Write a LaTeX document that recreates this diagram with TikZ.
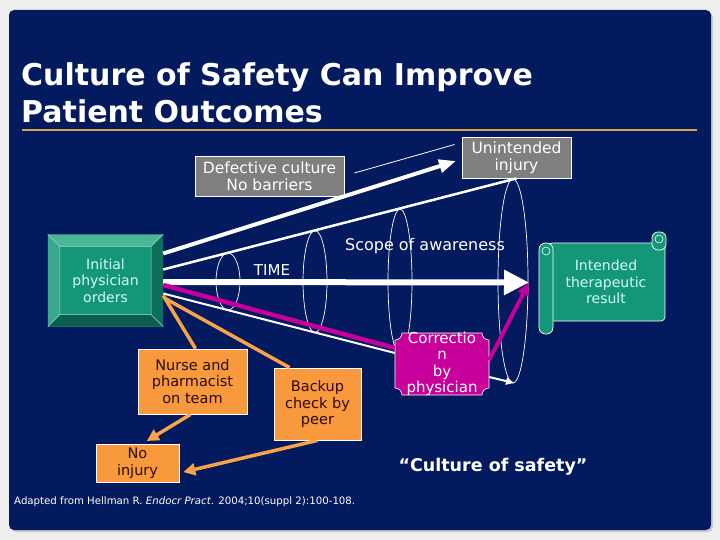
\documentclass[tikz,border=0pt]{standalone}
\usepackage{fontspec}
\setmainfont{DejaVu Sans}
\usetikzlibrary{arrows.meta, positioning, calc}
\definecolor{navy}{HTML}{041A5E}
\definecolor{pagegray}{HTML}{EEEEEE}
\definecolor{shadowgray}{HTML}{C6C9D0}
\definecolor{rulegold}{HTML}{D9A443}
\definecolor{boxgray}{HTML}{7F7F7F}
\definecolor{ordgreen}{HTML}{149679}
\definecolor{ordlight}{HTML}{4DB598}
\definecolor{ordside}{HTML}{3AA88B}
\definecolor{orddark}{HTML}{0A5E4C}
\definecolor{ordright}{HTML}{0C6F5A}
\definecolor{paletext}{HTML}{D2FBF5}
\definecolor{teamorange}{HTML}{F7993C}
\definecolor{linkorange}{HTML}{F8A24A}
\definecolor{darktext}{HTML}{2A0B0B}
\definecolor{fixmagenta}{HTML}{C8009B}

\begin{document}
\begin{tikzpicture}[x=1pt, y=-1pt,
  graybox/.style={draw=white, line width=0.8pt, fill=boxgray, text=white,
    font=\fontsize{15.5}{17.5}\selectfont, align=center, inner sep=0pt},
  teambox/.style={draw=white, line width=0.8pt, fill=teamorange, text=darktext,
    font=\fontsize{14.5}{16.8}\selectfont, align=center, inner sep=0pt},
  scopering/.style={white, line width=0.7pt},
  teamlink/.style={linkorange, line width=3.5pt},
  whitetext/.style={text=white, inner sep=0pt}]

% Background
\useasboundingbox (0,0) rectangle (720,540);
\fill[pagegray] (0,0) rectangle (720,540);
\fill[shadowgray, rounded corners=5pt] (11,12) rectangle (713,532);
\fill[navy, rounded corners=5pt] (9,10) rectangle (711,530);

% Title
\node[anchor=north west, align=left, inner sep=0pt, text=white,
  font=\fontsize{30}{37}\selectfont\bfseries] (title) at (21,63)
  {Culture of Safety Can Improve\\Patient Outcomes};
\draw[rulegold, line width=2.5pt] (22,130) -- (697,130);

% Scope of awareness rings
\draw[scopering] (228,281.5) ellipse [x radius=12pt, y radius=28.5pt];
\draw[scopering] (315,281.5) ellipse [x radius=12pt, y radius=51pt];
\draw[scopering] (400,281.5) ellipse [x radius=12pt, y radius=72.5pt];
\draw[scopering] (513,281) ellipse [x radius=15pt, y radius=102pt];

\node[whitetext, font=\fontsize{16}{18}\selectfont] (scope) at (425,246) {Scope of awareness};
\node[whitetext, font=\fontsize{15}{18}\selectfont] (time) at (272,270) {TIME};

% Gray boxes
\node[graybox, minimum width=149pt, minimum height=40pt] (defect) at (269.5,176)
  {Defective culture\\No barriers};
\node[graybox, minimum width=109pt, minimum height=41pt] (unint) at (516.5,157.5)
  {Unintended\\injury};

% Initial physician orders (bevelled box)
\node[fill=ordgreen, minimum width=115pt, minimum height=92pt, inner sep=0pt,
  text=paletext, font=\fontsize{14}{16.5}\selectfont, align=center] (orders)
  at (105.5,280.5) {Initial\\physician\\orders};
\fill[ordlight] (orders.north west) -- (orders.north east) -- ++(-12,12)
  -- ($(orders.north west)+(12,12)$) -- cycle;
\fill[ordside] (orders.north west) -- ++(12,12)
  -- ($(orders.south west)+(12,-12)$) -- (orders.south west) -- cycle;
\fill[orddark] (orders.south west) -- ++(12,-12)
  -- ($(orders.south east)+(-12,-12)$) -- (orders.south east) -- cycle;
\fill[ordright] (orders.north east) -- ++(-12,12)
  -- ($(orders.south east)+(-12,-12)$) -- (orders.south east) -- cycle;
\draw[paletext!70!ordgreen, line width=0.5pt]
  ($(orders.north west)+(12,12)$) rectangle ($(orders.south east)+(-12,-12)$)
  (orders.north west) -- ++(12,12) (orders.north east) -- ++(-12,12)
  (orders.south west) -- ++(12,-12) (orders.south east) -- ++(-12,-12);

% Intended therapeutic result (scroll)
\filldraw[fill=ordgreen, draw=white, line width=0.7pt, rounded corners=4pt]
  (548,243) rectangle (665,321);
\filldraw[fill=ordgreen, draw=white, line width=0.7pt, rounded corners=6pt]
  (652,232) rectangle (666,250);
\filldraw[fill=ordgreen, draw=white, line width=0.7pt, rounded corners=6.5pt]
  (539,243) rectangle (553,334);
\draw[white, line width=0.6pt] (546,251) circle [radius=4pt];
\draw[white, line width=0.6pt] (659,239) circle [radius=4pt];
\node[text=paletext, font=\fontsize{14}{16.5}\selectfont, align=center] (result)
  at (606,282) {Intended\\therapeutic\\result};

% Team boxes
\node[teambox, minimum width=109pt, minimum height=65pt] (nurse) at (192.5,381.5)
  {Nurse and\\pharmacist\\on team};
\node[teambox, minimum width=87pt, minimum height=72pt] (backup) at (317.5,404)
  {Backup\\check by\\peer};
\node[teambox, minimum width=83pt, minimum height=38pt] (noinj) at (137.5,463)
  {No\\injury};

% Correction by physician (plaque)
\filldraw[fill=fixmagenta, draw=white, line width=0.6pt]
  (402,333) -- (482,333) arc [start angle=180, end angle=270, radius=7pt]
  -- (489,388) arc [start angle=90, end angle=180, radius=7pt]
  -- (402,395) arc [start angle=0, end angle=90, radius=7pt]
  -- (395,340) arc [start angle=270, end angle=360, radius=7pt] -- cycle;
\node[whitetext, minimum width=94pt, minimum height=62pt, align=center,
  font=\fontsize{15}{16.5}\selectfont] (corr) at (442,364)
  {Correctio\\n\\by\\physician};

% Arrow ends
\coordinate (harm) at (456,161);
\coordinate (goal) at (529,282.5);
\coordinate (lowend) at (514,383);

% Paths from the orders
\draw[white, line width=4pt, -{Triangle[length=17pt, width=13pt]}]
  ([yshift=27pt]orders.east) -- (harm);
\draw[white, line width=2.5pt] ([yshift=11pt]orders.east) -- (unint.south);
\draw[white, line width=0.8pt] ([xshift=10pt, yshift=3pt]defect.east)
  -- ([xshift=-7pt, yshift=13pt]unint.west);
\draw[white, line width=6pt, -{Triangle[length=25pt, width=24pt]}]
  ([yshift=-1.5pt]orders.east) -- (goal);
\draw[fixmagenta, line width=4.5pt] ([yshift=-4.5pt]orders.east) -- ([yshift=16pt]corr.west);
\draw[fixmagenta, line width=4pt, -{Triangle[length=13pt, width=11pt]}]
  ([yshift=4pt]corr.east) -- (goal);
\draw[white, line width=2pt] ([yshift=-13pt]orders.east) -- ([yshift=11pt]corr.west);
\draw[white, line width=2pt, -{Triangle[length=8pt, width=7pt]}]
  ([yshift=-13pt]corr.east) -- (lowend);

% Team links
\draw[teamlink] ([yshift=-15pt]orders.east) -- ([xshift=3pt]nurse.north);
\draw[teamlink] ([xshift=2pt, yshift=-18pt]orders.east) -- ([xshift=16pt]backup.north west);
\draw[teamlink, -{Triangle[length=12pt, width=12pt]}, shorten >=5pt]
  ([xshift=-2pt]nurse.south) -- ([xshift=5pt]noinj.north);
\draw[teamlink, -{Triangle[length=12pt, width=12pt]}, shorten >=4pt]
  (backup.south) -- ([yshift=-10pt]noinj.east);

% Caption and source
\node[whitetext, font=\fontsize{17.5}{20}\selectfont\bfseries] (motto) at (493,467)
  {“Culture of safety”};
\node[whitetext, anchor=west, font=\fontsize{10.2}{12}\selectfont] (source) at (14,502)
  {Adapted from Hellman R. \textit{Endocr Pract}. 2004;10(suppl 2):100-108.};

\end{tikzpicture}
\end{document}
